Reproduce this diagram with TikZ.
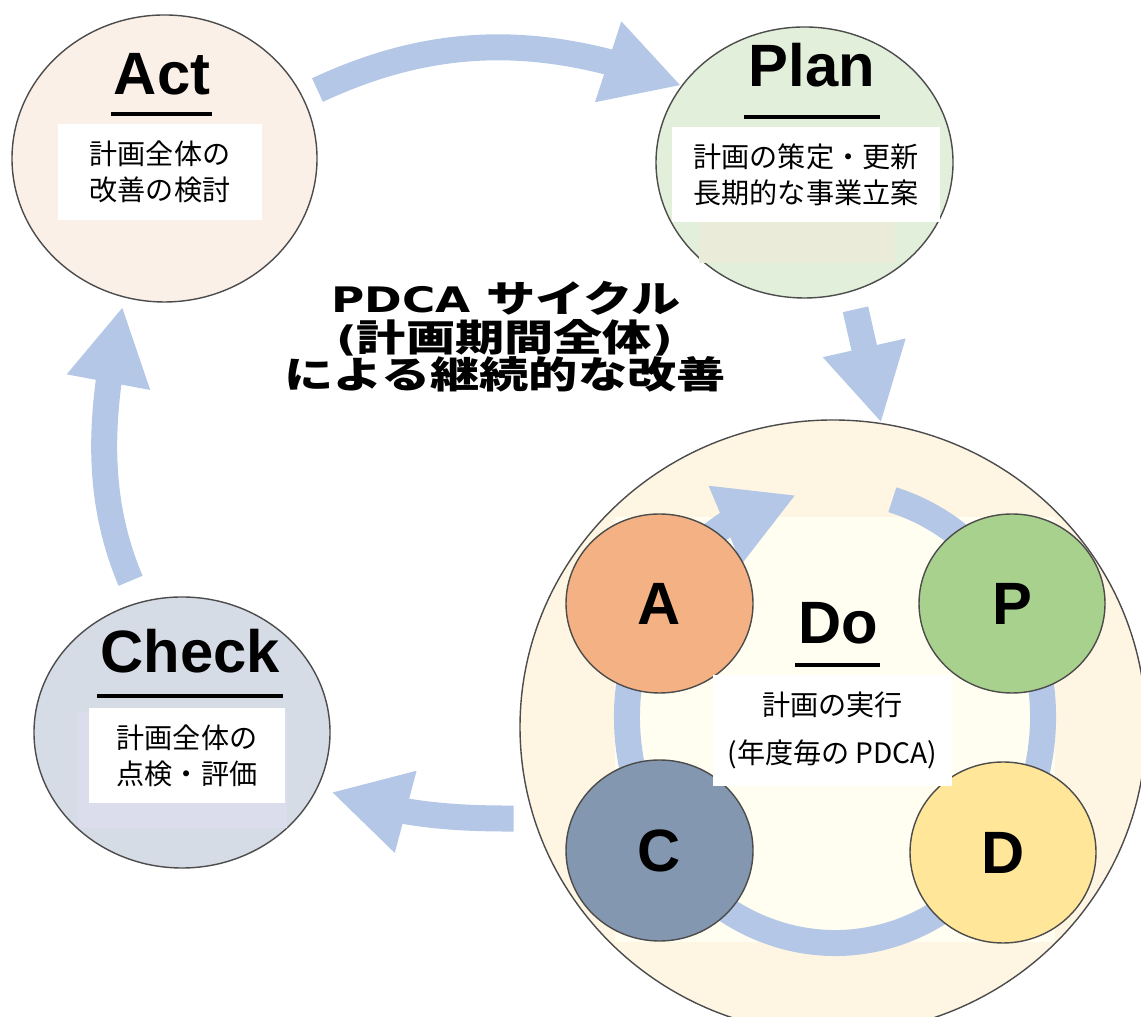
\documentclass[tikz,border=0pt]{standalone}
\usepackage{fontspec}
\setmainfont{Liberation Sans}
\newfontfamily\jp{Noto Sans CJK JP}
\newfontfamily\capfont{DejaVu Sans}[FakeStretch=1.29]
\newfontfamily\jpwide{Noto Sans CJK JP}[FakeStretch=1.32]
\newcommand\jpcap{\jpwide\fontsize{10.6}{13}\selectfont}
\usetikzlibrary{shapes.geometric,arrows.meta,bending}
\definecolor{arrowblue}{HTML}{B4C7E7}
\definecolor{actfill}{HTML}{FBF0E8}
\definecolor{planfill}{HTML}{E2EFDA}
\definecolor{planpatch}{HTML}{EAEBD8}
\definecolor{checkfill}{HTML}{D6DCE5}
\definecolor{checkpatch}{HTML}{DCDDEC}
\definecolor{dofill}{HTML}{FEF6E3}
\definecolor{doinner}{HTML}{FFFEF0}
\definecolor{afill}{HTML}{F4B183}
\definecolor{pfill}{HTML}{A9D18E}
\definecolor{cfill}{HTML}{8497B0}
\definecolor{dfill}{HTML}{FFE699}

\begin{document}
\begin{tikzpicture}[
  phase/.style={ellipse, draw=black!70, line width=0.4pt, inner sep=0pt},
  heading/.style={font=\fontsize{17}{20}\selectfont\bfseries, anchor=base, inner sep=0pt},
  memo/.style={fill=white, inner sep=0pt, align=center, font=\jp\fontsize{8}{10.3}\selectfont},
  cycletext/.style={font=\capfont\bfseries\fontsize{10}{13}\selectfont, anchor=base, inner sep=0pt, text height=0.3cm, text depth=0.04cm},
  bigarrow/.style={arrowblue, line width=0.26cm, -{Triangle[width=0.79cm,length=0.77cm]}},
  rule/.style={line width=0.9pt}
]
\useasboundingbox (0,0) rectangle (11.41,10.17);

% four stages
\node[phase, fill=actfill, minimum width=3.05cm, minimum height=2.87cm] (act) at (1.645,8.585) {};
\node[phase, fill=planfill, minimum width=2.97cm, minimum height=2.71cm] (plan) at (8.045,8.545) {};
\node[phase, fill=checkfill, minimum width=2.96cm, minimum height=2.71cm] (check) at (1.82,2.845) {};
\node[phase, fill=dofill, minimum width=6.26cm, minimum height=6.14cm] (do) at (8.33,2.90) {};

% yearly cycle inside Do
\fill[doinner] (6.15,0.75) rectangle (10.55,5.0);
\coordinate (ring) at (8.35,3.00);
\draw[bigarrow] ([shift={(74:2.08 and 2.26)}]ring) arc[start angle=74, end angle=-259.2, x radius=2.08, y radius=2.26];
\node[phase, fill=afill, minimum width=1.87cm, minimum height=1.79cm, font=\fontsize{17}{20}\selectfont\bfseries] (a) at (6.595,4.135) {A};
\node[phase, fill=pfill, minimum width=1.86cm, minimum height=1.79cm, font=\fontsize{17}{20}\selectfont\bfseries] (p) at (10.12,4.135) {P};
\node[phase, fill=cfill, minimum width=1.87cm, minimum height=1.81cm, font=\fontsize{17}{20}\selectfont\bfseries] (c) at (6.595,1.665) {C};
\node[phase, fill=dfill, minimum width=1.86cm, minimum height=1.81cm, font=\fontsize{17}{20}\selectfont\bfseries] (d) at (10.03,1.645) {D};

% headings and notes
\node[heading] (acttitle) at (1.62,9.22) {Act};
\draw[rule] (1.11,9.03) -- (2.12,9.03);
\node[memo, minimum width=2.04cm, minimum height=0.96cm] (actmemo) at (1.60,8.45) {計画全体の\\改善の検討};

\node[heading] (plantitle) at (8.12,9.30) {Plan};
\draw[rule] (7.44,9.00) -- (8.80,9.00);
\fill[planpatch] (6.99,7.54) rectangle (8.95,7.95);
\node[memo, minimum width=2.68cm, minimum height=0.95cm] (planmemo) at (8.06,8.425) {計画の策定・更新\\長期的な事業立案};

\node[heading] (checktitle) at (1.905,3.44) {Check};
\draw[rule] (0.97,3.21) -- (2.83,3.21);
\fill[checkpatch] (0.78,1.89) rectangle (2.87,3.05);
\node[memo, minimum width=1.96cm, minimum height=0.95cm] (checkmemo) at (1.87,2.615) {計画全体の\\点検・評価};

\node[heading] (dotitle) at (8.38,3.73) {Do};
\draw[rule] (7.95,3.52) -- (8.80,3.52);
\node[memo, font=\jp\fontsize{8}{13.9}\selectfont, minimum width=2.39cm, minimum height=1.11cm] (domemo) at (8.325,2.865) {計画の実行\\(年度毎の PDCA)};

% centre caption
\node[cycletext] (cycle1) at (5.06,7.04) {PDCA {\jpcap サイクル}};
\node[cycletext] (cycle2) at (5.045,6.65) {({\jpcap 計画期間全体})};
\node[cycletext] (cycle3) at (5.05,6.28) {\jpcap による継続的な改善};

% big arrows
\draw[bigarrow, shorten <=0.16cm] (act.24) to[out=25, in=159] (plan.148.5);
\draw[bigarrow, shorten <=0.18cm] (plan.-70) -- (do.81);
\draw[bigarrow, shorten <=0.2cm, shorten >=0.14cm] (do.197.7) to[out=180, in=-20] (check.-22);
\draw[bigarrow, shorten <=0.23cm, shorten >=0.09cm] (check.108.5) to[out=113, in=-103] (act.-106);
\end{tikzpicture}
\end{document}
